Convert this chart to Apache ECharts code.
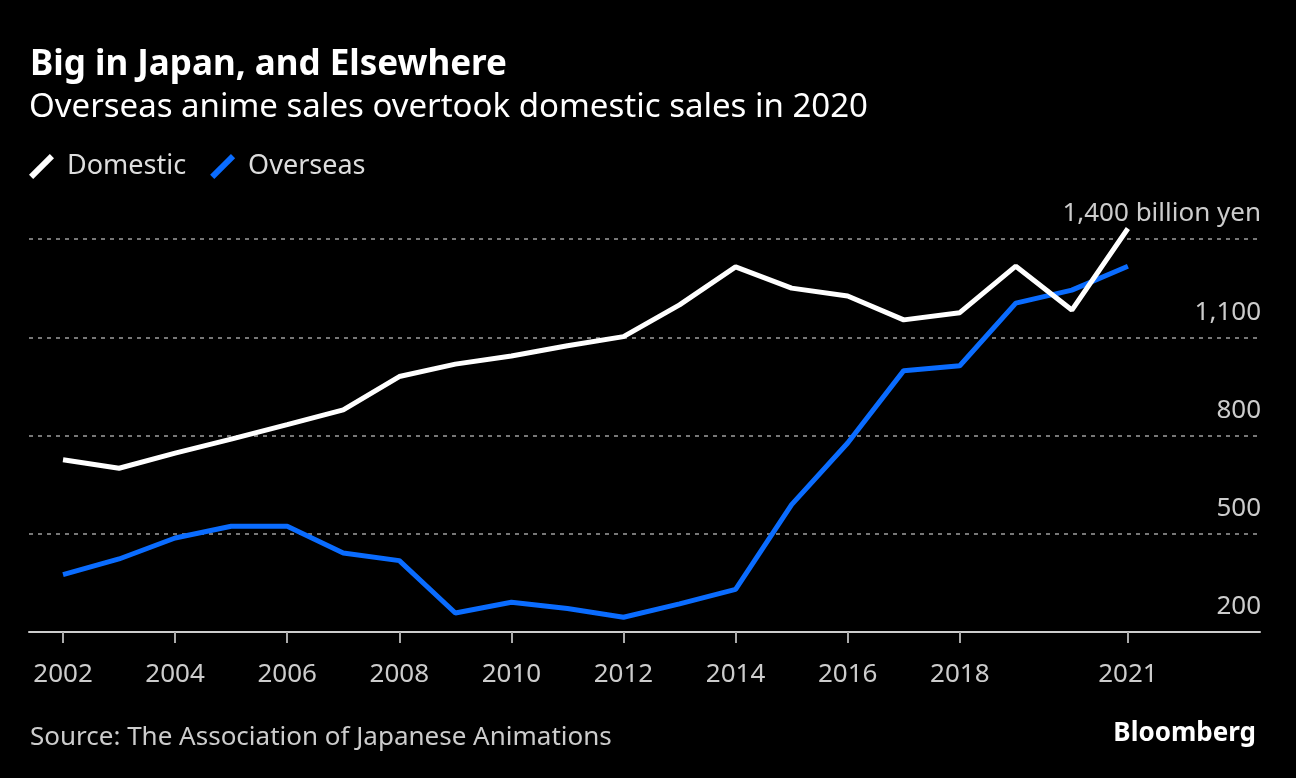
<!DOCTYPE html>
<html>
<head>
<meta charset="utf-8">
<script src="https://cdn.jsdelivr.net/npm/echarts@6/dist/echarts.min.js"></script>
<style>
html,body{margin:0;padding:0;background:#000;}
#chart{width:1296px;height:778px;}
</style>
</head>
<body>
<div id="chart"></div>
<script>
const years = [2002,2003,2004,2005,2006,2007,2008,2009,2010,2011,2012,2013,2014,2015,2016,2017,2018,2019,2020,2021];
const domestic = [726,700,746,789,833,878,980,1018,1043,1074,1102,1199,1315,1250,1226,1153,1175,1317,1183,1432];
const overseas = [375,423,487,523,523,441,418,258,291,272,245,286,330,589,777,998,1013,1204,1244,1317];
const xTickYears = [2002,2004,2006,2008,2010,2012,2014,2016,2018,2021];
const yTicks = [200,500,800,1100,1400];

const FONT = '"Noto Sans", sans-serif';
const BLUE = '#0a6cff';
const chart = echarts.init(document.getElementById('chart'));
const slash = 'path://M0,20 L20,0 L24,4 L4,24 Z';

chart.setOption({
  backgroundColor: '#000',
  animation: false,
  title: [
    {text: 'Big in Japan, and Elsewhere', left: 25, top: 43,
     textStyle: {color: '#fff', fontFamily: FONT, fontWeight: 'bold', fontSize: 35}},
    {text: 'Overseas anime sales overtook domestic sales in 2020', left: 24, top: 86,
     textStyle: {color: '#fff', fontFamily: FONT, fontWeight: 'normal', fontSize: 33}},
    {text: 'Source: The Association of Japanese Animations', left: 25, top: 720,
     textStyle: {color: '#ccc', fontFamily: FONT, fontWeight: 'normal', fontSize: 26}},
    {text: 'Bloomberg', right: 35, top: 716,
     textStyle: {color: '#fff', fontFamily: FONT, fontWeight: 'bold', fontSize: 26}}
  ],
  legend: {
    left: 29, top: 153, padding: 0, itemWidth: 25, itemHeight: 25, itemGap: 24,
    textStyle: {color: '#ddd', fontFamily: FONT, fontSize: 27, padding: [0, 0, 0, 8]},
    data: [
      {name: 'Domestic', icon: slash, itemStyle: {color: '#fff', borderWidth: 0}},
      {name: 'Overseas', icon: slash, itemStyle: {color: BLUE, borderWidth: 0}}
    ]
  },
  grid: {left: 29, right: 36, top: 239, bottom: 146},
  xAxis: {
    type: 'value', min: 2001.393, max: 2023.357,
    axisLine: {show: true, lineStyle: {color: '#ccc', width: 2}},
    axisTick: {show: true, customValues: xTickYears, length: 11, lineStyle: {color: '#aaa', width: 2}},
    axisLabel: {customValues: xTickYears, formatter: v => String(v), color: '#ccc',
      fontFamily: FONT, fontSize: 26, margin: 30},
    splitLine: {show: false}
  },
  yAxis: {
    type: 'value', position: 'right', min: 200, max: 1400, interval: 300,
    axisLine: {show: false}, axisTick: {show: false},
    axisLabel: {inside: true, align: 'right', verticalAlign: 'bottom', margin: -1,
      color: '#ccc', fontFamily: FONT, fontSize: 26, lineHeight: 26, padding: [0, 0, 12, 0],
      formatter: v => v === 1400 ? '1,400 billion yen' : v.toLocaleString('en-US')},
    splitLine: {show: true, showMinLine: false, lineStyle: {color: '#777', width: 2, type: [4, 5]}}
  },
  series: [
    {name: 'Domestic', type: 'line', data: years.map((y, i) => [y, domestic[i]]),
     showSymbol: false, clip: false, lineStyle: {color: '#fff', width: 5}, itemStyle: {color: '#fff'}, z: 3},
    {name: 'Overseas', type: 'line', data: years.map((y, i) => [y, overseas[i]]),
     showSymbol: false, clip: false, lineStyle: {color: BLUE, width: 5}, itemStyle: {color: BLUE}, z: 2}
  ]
});
</script>
</body>
</html>
